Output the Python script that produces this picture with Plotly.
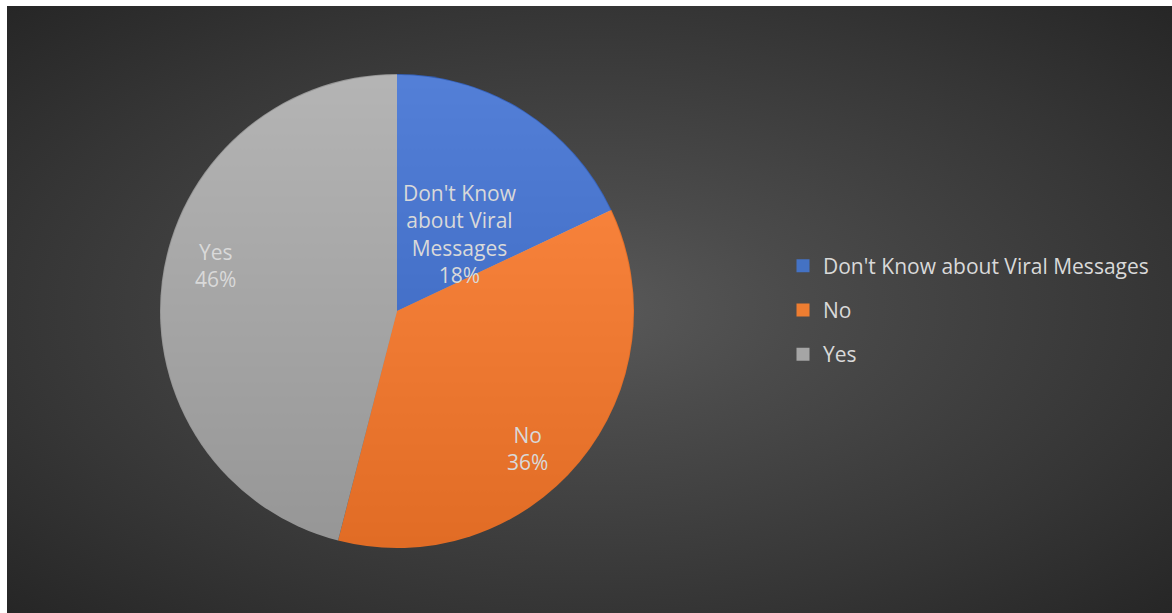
import numpy as np
import plotly.graph_objects as go

# Survey answers
categories = ["Don't Know about Viral Messages", "No", "Yes"]
label_text = ["Don't Know<br>about Viral<br>Messages", "No", "Yes"]
shares = [18, 36, 46]
# slice colours (rgb), drawn slightly translucent over a vertical shading disc
slice_rgb = [(53, 104, 208), (255, 118, 34), (167, 167, 167)]
legend_rgb = [(68, 114, 196), (237, 125, 49), (165, 165, 165)]
# data-label placement: fraction of the radius, and a small clockwise turn
label_radius = [0.42, 0.80, 0.79]
label_turn = 7

W, H = 1172, 613
ML, MT = 7, 6                      # thin white strip along the left and top
PW, PH = W - ML, H - MT            # plot area in pixels (axes map 1:1 to pixels)
cx, cy, r = 397, H - 311, 237      # pie centre / radius in axis units
font = "Open Sans"
text_col = "#d9d9d9"

fig = go.Figure()

# dark radial backdrop; box enlarged by sqrt(2) so the gradient reaches the corners
bx, by = 590, H - 310
hw, hh = PW / 2 * 1.414, PH / 2 * 1.414
fig.add_trace(go.Scatter(
    x=[bx - hw, bx + hw, bx + hw, bx - hw, bx - hw],
    y=[by - hh, by - hh, by + hh, by + hh, by - hh],
    mode="none", fill="toself",
    fillgradient=dict(type="radial",
                      colorscale=[[0, "#595959"], [0.25, "#4b4b4b"],
                                  [0.707, "#353535"], [1, "#262626"]]),
    hoverinfo="skip", showlegend=False))

# light-to-dark shading seen through the slices
t = np.linspace(0, 2 * np.pi, 361)
fig.add_trace(go.Scatter(
    x=cx + (r - 1) * np.sin(t), y=cy + (r - 1) * np.cos(t),
    mode="none", fill="toself",
    fillgradient=dict(type="vertical",
                      colorscale=[[0, "#373737"], [1, "#ffffff"]]),
    hoverinfo="skip", showlegend=False))

fig.add_trace(go.Pie(
    labels=categories, values=shares,
    sort=False, direction="clockwise", rotation=0,
    marker=dict(colors=[f"rgba({a},{b},{c},0.85)" for a, b, c in slice_rgb],
                line=dict(width=0)),
    textinfo="none",
    domain=dict(x=[(cx - r - ML) / PW, (cx + r - ML) / PW],
                y=[(cy - r) / PH, (cy + r) / PH]),
    showlegend=False, hoverinfo="label+percent"))

# data labels, placed along each slice's bisector
total = sum(shares)
start = 0.0
for txt, v, frac in zip(label_text, shares, label_radius):
    ang = np.deg2rad((start + v / 2) / total * 360 + label_turn)
    start += v
    fig.add_annotation(
        x=cx + frac * r * np.sin(ang), y=cy + frac * r * np.cos(ang),
        xref="x", yref="y", showarrow=False,
        text=f"{txt}<br>{v / total:.0%}", align="center",
        xanchor="center", yanchor="middle",
        font=dict(family=font, size=21, color=text_col))

# legend entries, one group each so the rows can be spaced out
for name, (a, b, c) in zip(categories, legend_rgb):
    fig.add_trace(go.Scatter(
        x=[None], y=[None], mode="markers", name=name, legendgroup=name,
        marker=dict(symbol="square", size=13, color=f"rgb({a},{b},{c})")))

fig.update_layout(
    width=W, height=H,
    margin=dict(l=ML, r=0, t=MT, b=0),
    paper_bgcolor="white", plot_bgcolor="#262626",
    xaxis=dict(range=[ML, W], visible=False, fixedrange=True),
    yaxis=dict(range=[0, PH], visible=False, fixedrange=True),
    legend=dict(x=(783 - ML) / PW, y=1 - (310 - MT) / PH,
                xanchor="left", yanchor="middle",
                font=dict(family=font, size=21, color=text_col),
                tracegroupgap=14, bgcolor="rgba(0,0,0,0)"),
)

fig.write_html("out.html")
